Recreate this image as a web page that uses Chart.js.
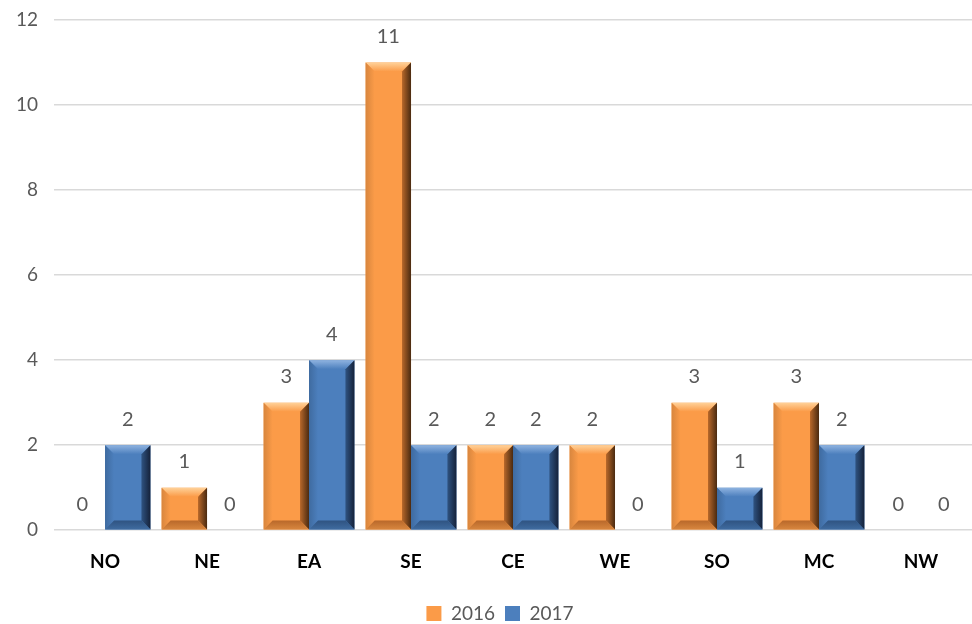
<!DOCTYPE html>
<html>
<head>
<meta charset="utf-8">
<script src="https://cdn.jsdelivr.net/npm/chart.js@4"></script>
<style>
  html, body { margin: 0; padding: 0; background: #fff; }
</style>
</head>
<body>
<canvas id="chart" width="972" height="624"></canvas>
<script>
const regions = ['NO', 'NE', 'EA', 'SE', 'CE', 'WE', 'SO', 'MC', 'NW'];
const values2016 = [0, 1, 3, 11, 2, 2, 3, 3, 0];
const values2017 = [2, 0, 4, 2, 2, 0, 1, 2, 0];
const yTicks = [0, 2, 4, 6, 8, 10, 12];

const FONT = 'Lato, "Open Sans", sans-serif';

function face(ctx, pts, fill) {
  ctx.fillStyle = fill;
  ctx.beginPath();
  ctx.moveTo(pts[0][0], pts[0][1]);
  for (let k = 1; k < pts.length; k++) ctx.lineTo(pts[k][0], pts[k][1]);
  ctx.closePath();
  ctx.fill();
}

// draws a bevel on each bar and the value label above it
const bevelPlugin = {
  id: 'bevel',
  afterLayout(chart) {
    // legend sits a bit right of centre in the original
    chart.legend.left += 14;
    chart.legend.right += 14;
  },
  afterDatasetsDraw(chart) {
    const ctx = chart.ctx;
    chart.data.datasets.forEach((ds, i) => {
      const meta = chart.getDatasetMeta(i);
      meta.data.forEach((bar, j) => {
        const v = ds.data[j];
        const left = bar.x - bar.width / 2, right = bar.x + bar.width / 2;
        const top = Math.min(bar.y, bar.base), bottom = Math.max(bar.y, bar.base);
        const h = bottom - top;
        if (h > 0) {
          const b = Math.min(9, h / 2);
          ctx.save();
          let g = ctx.createLinearGradient(0, top, 0, top + b);
          g.addColorStop(0, ds.light); g.addColorStop(1, ds.backgroundColor);
          face(ctx, [[left, top], [right, top], [right - b, top + b], [left + b, top + b]], g);
          g = ctx.createLinearGradient(left, 0, left + b, 0);
          g.addColorStop(0, ds.side); g.addColorStop(1, ds.backgroundColor);
          face(ctx, [[left, top], [left + b, top + b], [left + b, bottom - b], [left, bottom]], g);
          g = ctx.createLinearGradient(right - b, 0, right, 0);
          g.addColorStop(0, ds.mid); g.addColorStop(1, ds.dark);
          face(ctx, [[right, top], [right, bottom], [right - b, bottom - b], [right - b, top + b]], g);
          g = ctx.createLinearGradient(0, bottom - b, 0, bottom);
          g.addColorStop(0, ds.mid); g.addColorStop(1, ds.side);
          face(ctx, [[left, bottom], [right, bottom], [right - b, bottom - b], [left + b, bottom - b]], g);
          ctx.restore();
        }
        ctx.save();
        ctx.fillStyle = '#595959';
        ctx.font = '20px ' + FONT;
        ctx.textAlign = 'center';
        ctx.textBaseline = 'middle';
        ctx.fillText(String(v), bar.x, top - 26);
        ctx.restore();
      });
    });
  }
};

new Chart(document.getElementById('chart'), {
  type: 'bar',
  data: {
    labels: regions,
    datasets: [
      {
        label: '2016', data: values2016,
        backgroundColor: '#FB9B48', borderWidth: 0,
        light: '#FFD29A', dark: '#4A2A10', mid: '#B8682A', side: '#D8863E'
      },
      {
        label: '2017', data: values2017,
        backgroundColor: '#4C7FBD', borderWidth: 0,
        light: '#8FB3E0', dark: '#15223A', mid: '#2F5381', side: '#3F6BA0'
      }
    ]
  },
  options: {
    responsive: false,
    animation: false,
    devicePixelRatio: 1,
    layout: { padding: { top: 0, right: 0, left: 0, bottom: -9 } },
    datasets: { bar: { categoryPercentage: 0.89, barPercentage: 1 } },
    plugins: {
      legend: {
        position: 'bottom',
        labels: {
          color: '#595959',
          font: { family: FONT, size: 19 },
          boxWidth: 15, boxHeight: 15,
          padding: 10
        }
      },
      tooltip: { enabled: false }
    },
    scales: {
      x: {
        grid: { display: false },
        border: { display: false },
        ticks: { color: '#000', font: { family: FONT, size: 19, weight: 'bold' }, padding: 12 },
        afterFit: (s) => { s.height += 9; }
      },
      y: {
        min: 0, max: 12,
        afterBuildTicks: (s) => { s.ticks = yTicks.map(v => ({ value: v })); },
        afterFit: (s) => { s.paddingTop = 20; },
        grid: { color: '#D9D9D9', lineWidth: 1.5, drawTicks: false },
        border: { display: false },
        ticks: { color: '#595959', font: { family: FONT, size: 19 }, padding: 16 }
      }
    }
  },
  plugins: [bevelPlugin]
});
</script>
</body>
</html>
